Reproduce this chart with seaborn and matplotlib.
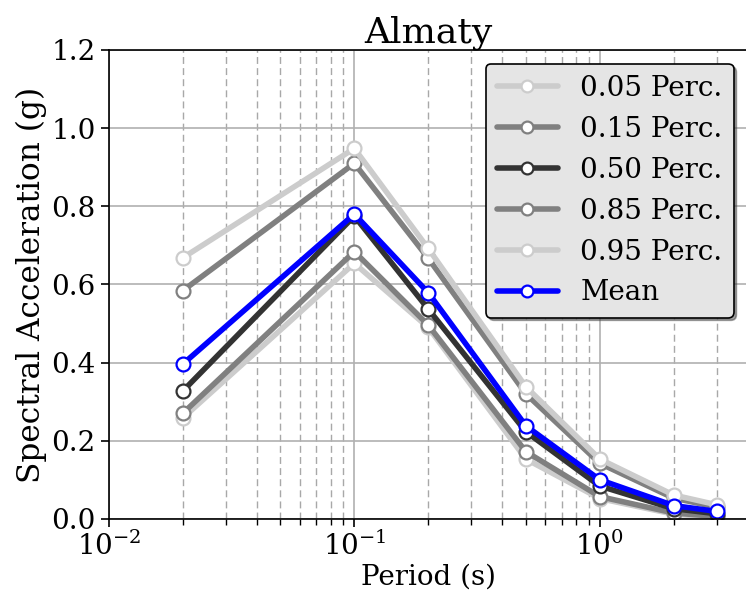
import numpy as np
import pandas as pd
import matplotlib
matplotlib.use("Agg")
import matplotlib.pyplot as plt
import seaborn as sns

# Spectral acceleration percentiles for Almaty
periods = [0.02, 0.1, 0.2, 0.5, 1.0, 2.0, 3.0]
p05 = [0.258, 0.654, 0.490, 0.153, 0.052, 0.012, 0.004]
p15 = [0.270, 0.684, 0.496, 0.172, 0.057, 0.015, 0.006]
p50 = [0.327, 0.775, 0.537, 0.223, 0.084, 0.026, 0.013]
p85 = [0.584, 0.910, 0.667, 0.320, 0.142, 0.053, 0.030]
p95 = [0.668, 0.948, 0.692, 0.338, 0.153, 0.061, 0.036]
mean = [0.396, 0.780, 0.579, 0.238, 0.100, 0.034, 0.019]

labels = ['0.05 Perc.', '0.15 Perc.', '0.50 Perc.', '0.85 Perc.', '0.95 Perc.', 'Mean']
series = [p05, p15, p50, p85, p95, mean]
colors = ['#cccccc', '#808080', '#333333', '#808080', '#cccccc', '#0000ff']

sns.set_style('white')
plt.rcParams['font.family'] = ['DejaVu Serif']
plt.rcParams['mathtext.fontset'] = 'dejavuserif'
plt.rcParams['text.color'] = 'black'
plt.rcParams['axes.labelcolor'] = 'black'
plt.rcParams['xtick.color'] = 'black'
plt.rcParams['ytick.color'] = 'black'

fig = plt.figure(figsize=(7.46, 5.95), dpi=100)
ax = fig.add_axes([0.146, 0.128, 0.856, 0.788])

for lab, vals, col in zip(labels, series, colors):
    df = pd.DataFrame({'period': periods, 'sa': vals})
    sns.lineplot(x='period', y='sa', data=df, ax=ax, color=col, lw=4, label=lab,
                 marker='o', markersize=10, markerfacecolor='white',
                 markeredgecolor=col, markeredgewidth=1.6)

ax.set_xscale('log')
ax.set_xlim(0.01, 4.0)
ax.set_ylim(0, 1.2)
ax.set_yticks(np.arange(0, 1.21, 0.2))
ax.yaxis.set_major_formatter(matplotlib.ticker.FormatStrFormatter('%.1f'))

ax.grid(True, which='major', axis='both', color='#b0b0b0', lw=1.2, ls='-')
ax.grid(True, which='minor', axis='x', color='#a8a8a8', lw=1.0, ls=(0, (5, 3)))
ax.set_axisbelow(True)

ax.tick_params(axis='both', which='major', direction='out', length=6, width=1.2,
               labelsize=20, bottom=True, left=True)
ax.tick_params(axis='x', which='minor', direction='out', length=4, width=1.0, bottom=True)
ax.spines['right'].set_visible(False)
for s in ['left', 'bottom', 'top']:
    ax.spines[s].set_color('black')
    ax.spines[s].set_linewidth(1.2)

ax.set_xlabel('Period (s)', fontsize=20, labelpad=2)
ax.set_ylabel('Spectral Acceleration (g)', fontsize=22.5, labelpad=3)
ax.set_title('Almaty', fontsize=26, pad=4)

leg = ax.legend(loc='upper right', fontsize=20, frameon=True, fancybox=True,
                shadow=True, framealpha=1, handlelength=2.2, markerscale=0.85,
                borderaxespad=0.5, labelspacing=0.5)
leg.get_frame().set_facecolor('#e5e5e5')
leg.get_frame().set_edgecolor('black')
leg.get_frame().set_linewidth(1.2)

fig.savefig('out.png', dpi=100)
